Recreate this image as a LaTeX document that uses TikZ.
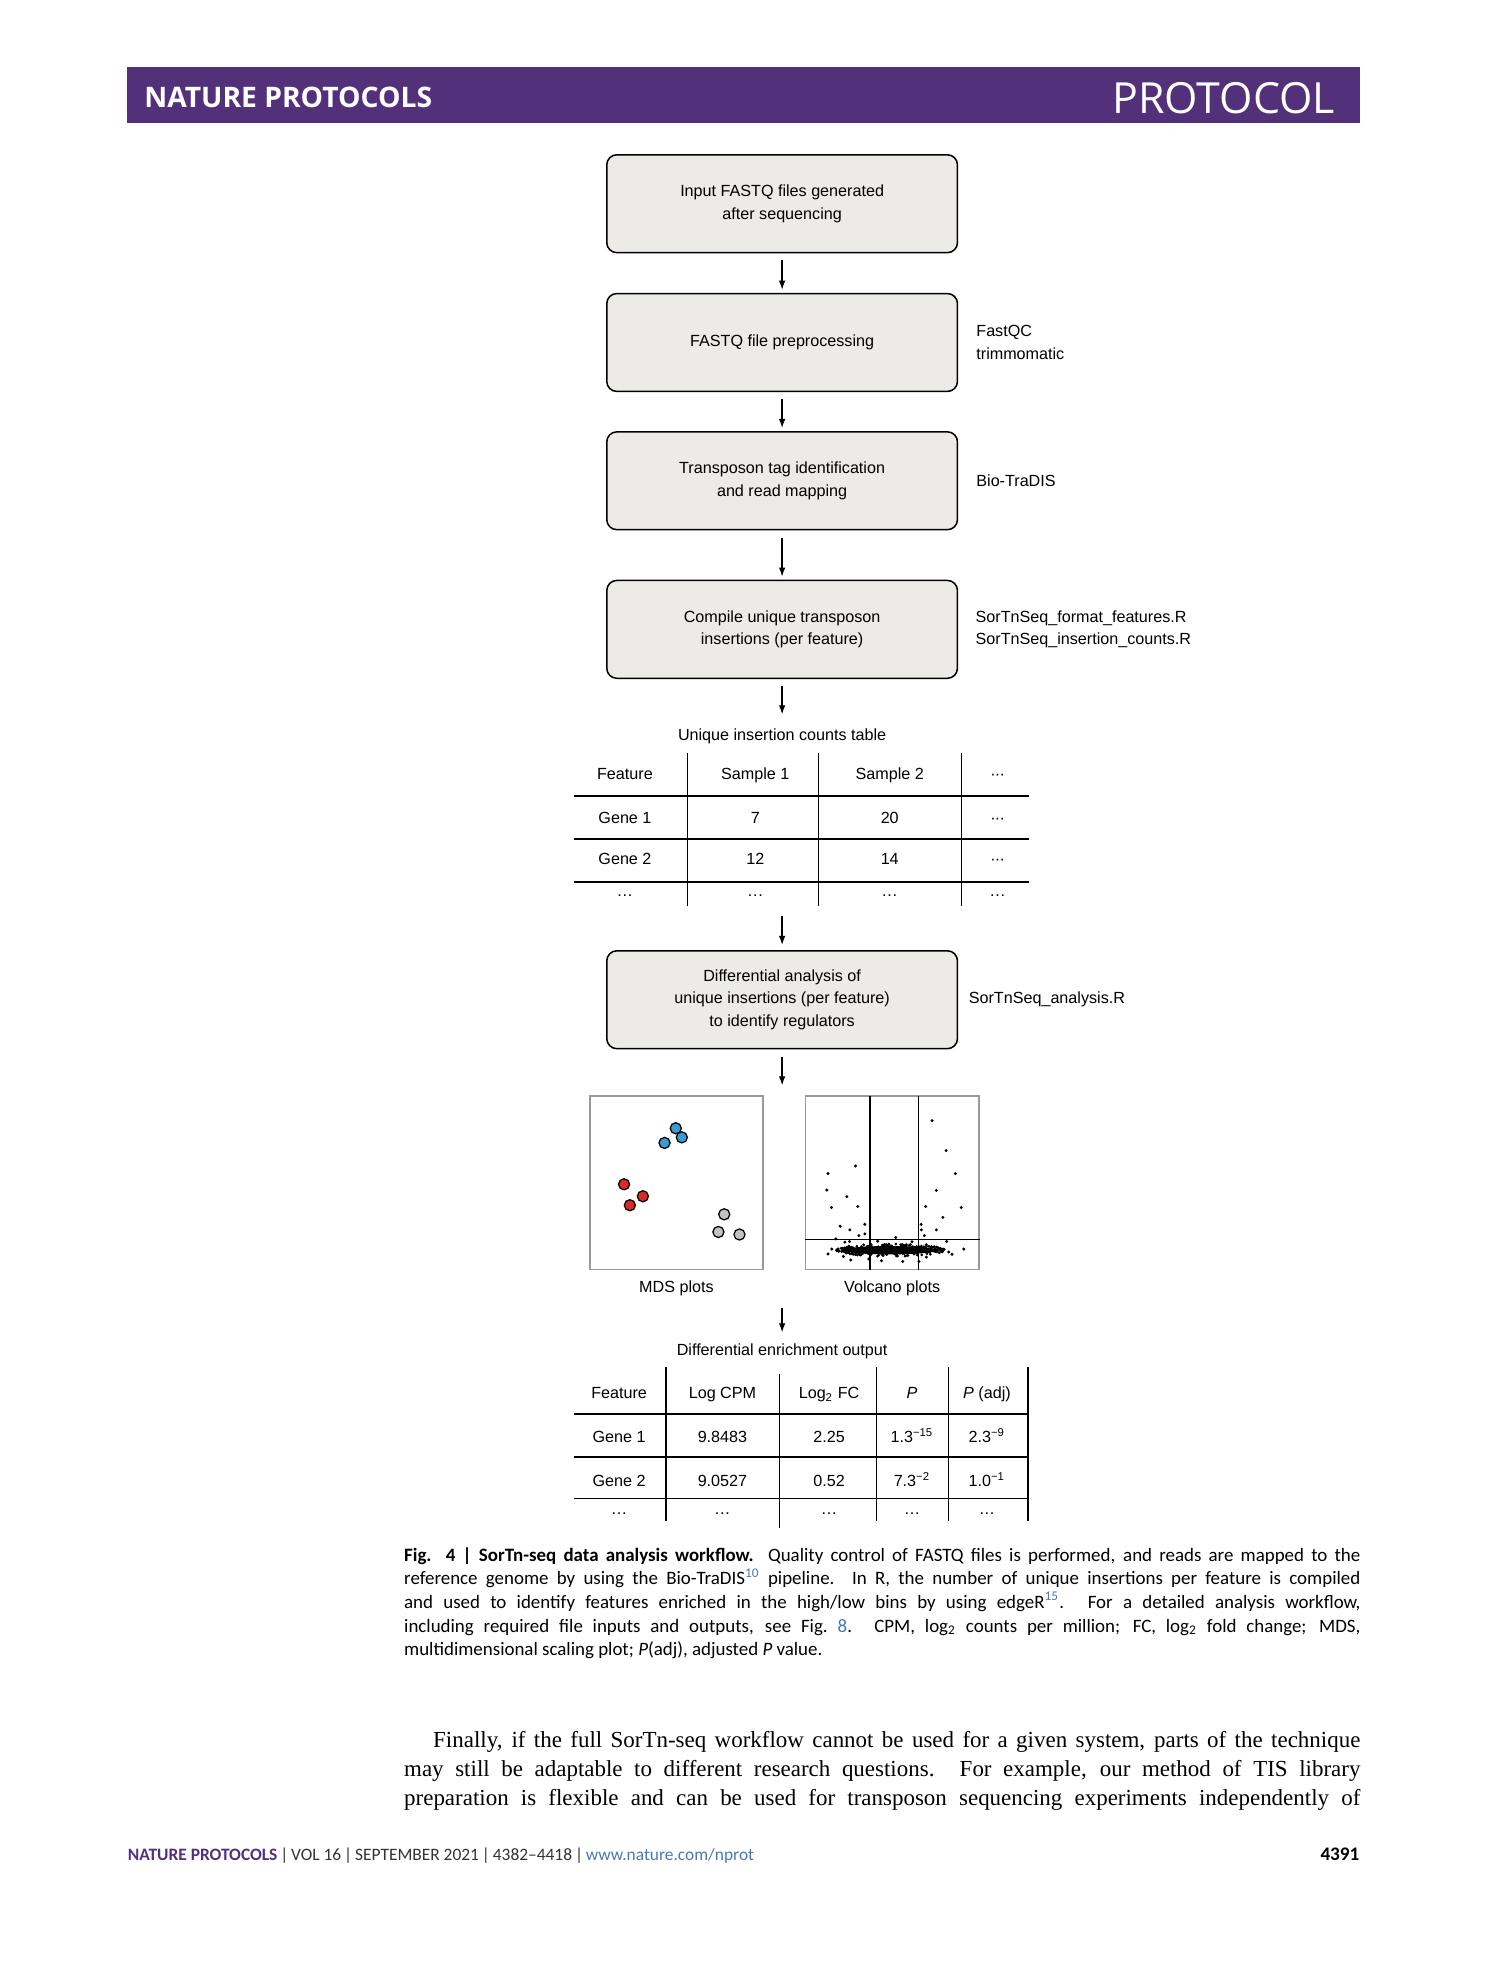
\documentclass[tikz,border=0pt]{standalone}
\usepackage{fontspec}
\setmainfont{Liberation Serif}
\usepackage{xcolor}
\usepackage{tikz}
\usetikzlibrary{arrows.meta,positioning,fit,calc}
\newfontfamily\diagfont{Liberation Sans}
\newfontfamily\natsans{Carlito}
\newfontfamily\natserif{Liberation Serif}
\newfontfamily\headsans{Open Sans}
\definecolor{natpurple}{HTML}{52307A}
\definecolor{natlink}{HTML}{4A78B5}
\definecolor{natgray}{HTML}{333333}
\definecolor{boxfill}{HTML}{ECEBE7}
\definecolor{plotframe}{HTML}{9A9A9A}
\definecolor{mdsblue}{HTML}{3A9AD2}
\definecolor{mdsred}{HTML}{DD2828}
\definecolor{mdsgray}{HTML}{C4BFC6}
\newcommand{\dfont}{\diagfont\fontsize{6.4}{9}\selectfont}
\newcommand{\mdots}{·\kern-.3pt·\kern-.3pt·}
\newcommand{\bdots}{.\kern.3pt.\kern.3pt.}
\newcommand{\refnum}[1]{\textsuperscript{\textcolor{natlink}{#1}}}
\newcommand{\fbar}{\,|\,}

\begin{document}
\begin{tikzpicture}[
  x=0.5pt,y=-0.5pt,
  stepbox/.style={draw,line width=0.6pt,rounded corners=4pt,fill=boxfill,minimum width=139pt,minimum height=38.8pt,align=center,font=\dfont},
  sidenote/.style={inner sep=0pt,align=left,font=\dfont},
  cell/.style={inner sep=0pt,font=\dfont,text height=4.6pt,text depth=0pt},
  arrow/.style={-{Latex[length=3.6pt,width=2.6pt]},line width=0.5pt,shorten <=2.8pt,shorten >=1.2pt},
  tabrule/.style={line width=0.6pt},
  plotbox/.style={draw=plotframe,line width=0.6pt,minimum width=68.75pt,minimum height=68.7pt,inner sep=0pt},
  mdsdot/.style={draw,line width=0.5pt,fill=#1}
]
\path[fill=white] (0,0) rectangle (1180,1568);
\useasboundingbox (0,0) rectangle (1180,1568);

% header band
\fill[natpurple] (101,53.5) rectangle (1078,97.2);
\node[anchor=base west,inner sep=0pt,text=white,font=\headsans\bfseries\fontsize{11.2}{11.2}\selectfont] (jname) at (114,85.3) {NATURE PROTOCOLS};
\node[anchor=base east,inner sep=0pt,text=white,font=\headsans\fontsize{17}{17}\selectfont] (jtype) at (1058.7,89.8) {PROTOCOL};

% workflow steps
\node[stepbox] (input) at (620,161.5) {Input FASTQ files generated\\after sequencing};
\node[stepbox,below=15.6pt of input] (preproc) {FASTQ file preprocessing};
\node[stepbox,below=15.4pt of preproc] (mapping) {Transposon tag identification\\and read mapping};
\node[stepbox,below=19.5pt of mapping] (compile) {Compile unique transposon\\insertions (per feature)};
\node[stepbox] (analysis) at (620,792.5) {Differential analysis of\\unique insertions (per feature)\\to identify regulators};

\node[sidenote,right=7pt of preproc] (preproctools) {FastQC\\trimmomatic};
\node[sidenote,right=7pt of mapping] (mappingtool) {Bio-TraDIS};
\node[sidenote,right=6.7pt of compile] (compilescripts) {SorTnSeq\_format\_features.R\\SorTnSeq\_insertion\_counts.R};
\node[sidenote,right=4pt of analysis] (analysisscript) {SorTnSeq\_analysis.R};

% counts table
\node[cell] (countstitle) at (620,582.5) {Unique insertion counts table};
\foreach \cx/\ctext [count=\i] in {495.4/Feature,598.7/Sample 1,705.3/Sample 2,790.8/\mdots}
  \node[cell] (cnt-h\i) at (\cx,613.6) {\ctext};
\foreach \cx/\ctext [count=\i] in {495.4/Gene 1,598.7/7,705.3/20,790.8/\mdots}
  \node[cell] (cnt-a\i) at (\cx,648) {\ctext};
\foreach \cx/\ctext [count=\i] in {495.4/Gene 2,598.7/12,705.3/14,790.8/\mdots}
  \node[cell] (cnt-b\i) at (\cx,681) {\ctext};
\foreach \cx [count=\i] in {495.4,598.7,705.3,790.8}
  \node[cell] (cnt-c\i) at (\cx,706) {\bdots};
\foreach \ly in {631,665,699} \draw[tabrule] (455,\ly) -- (815.5,\ly);
\foreach \lx in {545,649,762} \draw[tabrule] (\lx,597) -- (\lx,718.5);
\node[fit={(455,597) (815.5,718.5)},inner sep=0pt] (countstable) {};

% plots
\node[plotbox] (mds) at (536.25,937.7) {};
\node[plotbox] (volcano) at (707.3,937.7) {};
\node[cell,below=3.9pt of mds] (mdslabel) {MDS plots};
\node[cell,below=3.9pt of volcano] (volcanolabel) {Volcano plots};

\foreach \px/\py in {535.7/894.4,540.5/901.6,526.8/906}
  \draw[mdsdot=mdsblue] (\px,\py) circle[radius=4.4];
\foreach \px/\py in {494.7/938.8,509.6/948.3,499.3/955.4}
  \draw[mdsdot=mdsred] (\px,\py) circle[radius=4.4];
\foreach \px/\py in {574.1/962.6,569.5/976.6,586.2/978.6}
  \draw[mdsdot=mdsgray] (\px,\py) circle[radius=4.4];

\begin{scope}[shift={(638,869)},x=69.3pt,y=-68.7pt]
  \draw[line width=0.45pt] (0.373,0) -- (0.373,1) (0.648,0) -- (0.648,1) (0,0.829) -- (1,0.829);
  \fill (0.49,0.888) ellipse [x radius=0.27,y radius=0.024];
  \pgfmathsetseed{4}
  \foreach \k in {1,...,260}{
    \pgfmathsetmacro\u{rand}
    \pgfmathsetmacro\px{0.49+0.31*\u}
    \pgfmathsetmacro\py{0.888+0.036*rand*sqrt(max(0,1-\u*\u))}
    \fill (\px,\py) circle[radius=0.6pt];
  }
  \foreach \px/\py in {0.728/0.141,0.808/0.314,0.861/0.446,0.752/0.543,0.895/0.642,0.691/0.636,
      0.790/0.699,0.665/0.739,0.752/0.771,0.667/0.771,0.684/0.804,0.811/0.838,0.909/0.882,
      0.842/0.912,0.823/0.899,0.695/0.857,0.695/0.928,0.653/0.954,
      0.290/0.402,0.133/0.446,0.126/0.541,0.240/0.579,0.152/0.642,0.303/0.636,0.202/0.750,
      0.343/0.739,0.257/0.771,0.343/0.794,0.309/0.804,0.177/0.823,0.520/0.815,0.417/0.836,
      0.229/0.842,0.255/0.838,0.154/0.882,0.133/0.910,0.221/0.924,0.263/0.945,0.366/0.939,
      0.438/0.949,0.560/0.954,0.613/0.840,0.581/0.857}
    \fill (\px,\py) circle[radius=0.65pt];
\end{scope}

% enrichment table
\node[cell] (enrichtitle) at (620,1069.8) {Differential enrichment output};
\foreach \cx/\ctext [count=\i] in {490.8/Feature,572.7/Log CPM,657.2/Log\textsubscript{2} FC,723/\textit{P},782.4/\textit{P} (adj)}
  \node[cell] (enr-h\i) at (\cx,1104) {\ctext};
\foreach \cx/\ctext [count=\i] in {490.8/Gene 1,572.7/9.8483,657.2/2.25,723/1.3\textsuperscript{−15},782.4/2.3\textsuperscript{−9}}
  \node[cell] (enr-a\i) at (\cx,1139) {\ctext};
\foreach \cx/\ctext [count=\i] in {490.8/Gene 2,572.7/9.0527,657.2/0.52,723/7.3\textsuperscript{−2},782.4/1.0\textsuperscript{−1}}
  \node[cell] (enr-b\i) at (\cx,1174) {\ctext};
\foreach \cx [count=\i] in {490.8,572.7,657.2,723,782.4}
  \node[cell] (enr-c\i) at (\cx,1196) {\bdots};
\foreach \ly in {1121,1155,1188} \draw[tabrule] (455,\ly) -- (816,\ly);
\foreach \lx in {528,695,752,815} \draw[tabrule] (\lx,1084) -- (\lx,1206);
\draw[tabrule] (618,1089) -- (618,1211);

% connectors
\draw[arrow] (input) -- (preproc);
\draw[arrow] (preproc) -- (mapping);
\draw[arrow] (mapping) -- (compile);
\draw[arrow,shorten >=5.6pt] (compile) -- (countstitle);
\draw[arrow,shorten <=3.8pt,shorten >=2pt] (analysis.north |- countstable.south) -- (analysis);
\draw[arrow,shorten >=4pt] (analysis) -- (analysis.south |- mds.north);
\draw[arrow,shorten <=6pt,shorten >=4.3pt] (analysis.south |- mdslabel.south) -- (enrichtitle);

% caption and running text
\node[anchor=base west,inner sep=0pt,text width=379pt,align=justify,font=\natsans\fontsize{7.5}{9.4}\selectfont] (caption) at (320,1237.5) {\textbf{Fig. 4 | SorTn-seq data analysis workflow.} Quality control of FASTQ files is performed, and reads are mapped to the\linebreak
reference genome by using the Bio-TraDIS\refnum{10} pipeline. In R, the number of unique insertions per feature is compiled\linebreak
and used to identify features enriched in the high/low bins by using edgeR\refnum{15}. For a detailed analysis workflow,\linebreak
including required file inputs and outputs, see Fig.~\textcolor{natlink}{8}. CPM, log\textsubscript{2} counts per million; FC, log\textsubscript{2} fold change; MDS,\linebreak
multidimensional scaling plot; \textit{P}(adj), adjusted \textit{P} value.};

\node[anchor=base west,inner sep=0pt,text width=379pt,align=justify,font=\natserif\fontsize{9.1}{11.5}\selectfont] (bodytext) at (320,1385) {\parfillskip=0pt\hspace*{11.5pt}Finally, if the full SorTn-seq workflow cannot be used for a given system, parts of the technique\linebreak
may still be adaptable to different research questions. For example, our method of TIS library\linebreak
preparation is flexible and can be used for transposon sequencing experiments independently of\par};

% footer
\node[anchor=base west,inner sep=0pt,text=natgray,font=\natsans\fontsize{6.9}{6.9}\selectfont] (footer) at (101,1475) {\textcolor{natpurple}{\bfseries NATURE PROTOCOLS}\fbar VOL 16\fbar SEPTEMBER 2021\fbar 4382–4418\fbar\textcolor{natlink}{www.nature.com/nprot}};
\node[anchor=base east,inner sep=0pt,font=\natsans\bfseries\fontsize{7.6}{7.6}\selectfont] (pagenum) at (1078,1475) {4391};
\end{tikzpicture}
\end{document}
